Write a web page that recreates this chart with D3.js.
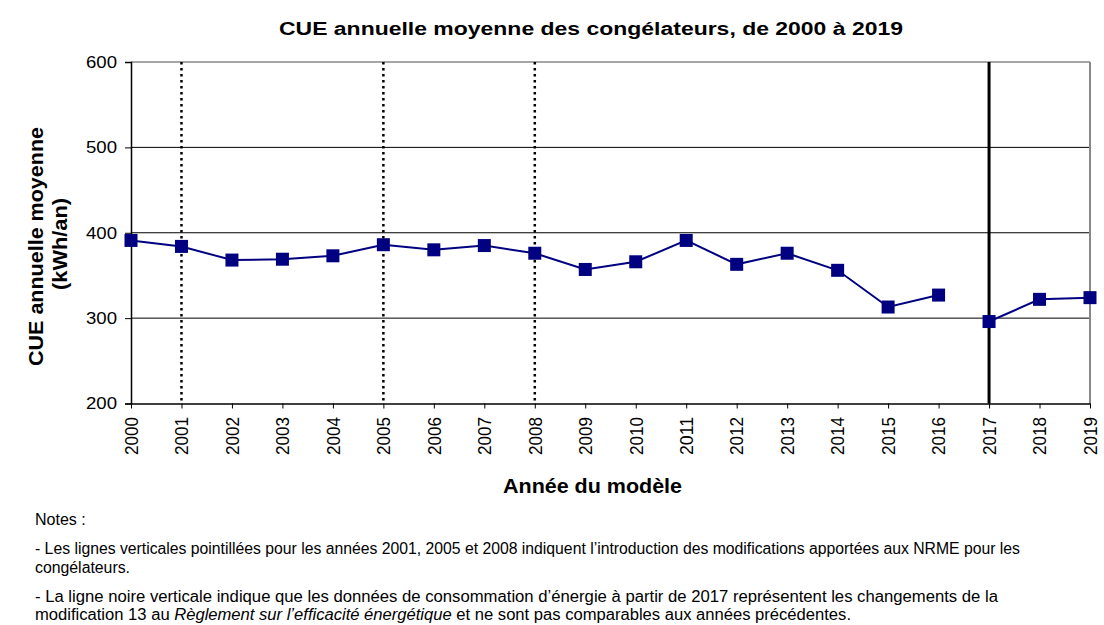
<!DOCTYPE html>
<html><head><meta charset="utf-8">
<script src="https://cdn.jsdelivr.net/npm/d3@7"></script>
<style>body{margin:0;background:#fff}svg{display:block}</style>
</head><body>
<svg id="c" width="1104" height="625"></svg>
<script>
const years = ["2000","2001","2002","2003","2004","2005","2006","2007","2008","2009","2010","2011","2012","2013","2014","2015","2016","2017","2018","2019"];
const cue = [391,384,368,369,373,386,380,385,376,357,366,391,363,376,356,313,327,296,322,324];
const segments = [[0,16],[17,19]];
const dottedYears = ["2001","2005","2008"];
const solidYear = "2017";
const yTicks = [200,300,400,500,600];
const title = "CUE annuelle moyenne des congélateurs, de 2000 à 2019";
const yTitle = ["CUE annuelle moyenne","(kWh/an)"];
const xTitle = "Année du modèle";
const notes = ["Notes :",
"- Les lignes verticales pointillées pour les années 2001, 2005 et 2008 indiquent l’introduction des modifications apportées aux NRME pour les",
"congélateurs.",
"- La ligne noire verticale indique que les données de consommation d’énergie à partir de 2017 représentent les changements de la"];

const svg = d3.select("#c");
const F = "'Liberation Sans', Arial, sans-serif";
const L=131, R=1090, T=62, B=403.5;
const x = d3.scalePoint().domain(years).range([L,R]);
const y = d3.scaleLinear().domain([200,600]).range([B,T]);

// gridlines
svg.append("g").selectAll("line").data([300,400,500]).join("line")
 .attr("x1",L).attr("x2",R).attr("y1",d=>y(d)).attr("y2",d=>y(d)).attr("stroke","#000").attr("stroke-width",1);
// top/right border gray
svg.append("line").attr("x1",L).attr("x2",R).attr("y1",y(600)).attr("y2",y(600)).attr("stroke","#888").attr("stroke-width",1.5);
svg.append("line").attr("x1",R).attr("x2",R).attr("y1",T).attr("y2",B).attr("stroke","#888").attr("stroke-width",2);

// vertical lines
svg.append("g").selectAll("line").data(dottedYears).join("line")
 .attr("x1",d=>x(d)).attr("x2",d=>x(d)).attr("y1",T).attr("y2",B)
 .attr("stroke","#000").attr("stroke-width",2.5).attr("stroke-dasharray","2.5,3.5");
svg.append("line").attr("x1",x(solidYear)).attr("x2",x(solidYear)).attr("y1",T).attr("y2",B)
 .attr("stroke","#000").attr("stroke-width",3);

// axes
const yAx = svg.append("g").attr("transform",`translate(${L},0)`)
 .call(d3.axisLeft(y).tickValues(yTicks).tickSize(6).tickPadding(8));
yAx.select(".domain").attr("stroke","#000").attr("stroke-width",1.5);
yAx.selectAll("text").attr("font-family",F).attr("font-size",17).attr("fill","#000")
 .attr("textLength",31).attr("lengthAdjust","spacingAndGlyphs");
const xAx = svg.append("g").attr("transform",`translate(0,${B})`)
 .call(d3.axisBottom(x).tickSize(5).tickPadding(4).tickSizeOuter(0));
xAx.select(".domain").attr("stroke","#000").attr("stroke-width",1.5);
xAx.selectAll("text").attr("font-family",F).attr("font-size",17.5).attr("fill","#000")
 .attr("transform","rotate(-90)").attr("text-anchor","end").attr("dx",0).attr("dy","0.36em")
 .attr("x",-13.5).attr("y",0).attr("textLength",38).attr("lengthAdjust","spacingAndGlyphs");

// series
const line = d3.line().x(d=>x(years[d])).y(d=>y(cue[d]));
segments.forEach(([a,b])=>{
  svg.append("path").datum(d3.range(a,b+1)).attr("d",line)
   .attr("fill","none").attr("stroke","#000080").attr("stroke-width",2);
});
svg.append("g").selectAll("rect").data(cue).join("rect")
 .attr("x",(d,i)=>x(years[i])-6.5).attr("y",d=>y(d)-6.5).attr("width",13).attr("height",13).attr("fill","#000080");

// titles
svg.append("text").attr("x",591).attr("y",35).attr("text-anchor","middle").attr("font-family",F)
 .attr("font-weight","bold").attr("font-size",18).attr("textLength",624).attr("lengthAdjust","spacingAndGlyphs").text(title);
svg.append("text").attr("x",592.5).attr("y",493).attr("text-anchor","middle").attr("font-family",F)
 .attr("font-weight","bold").attr("font-size",20).attr("textLength",179).attr("lengthAdjust","spacingAndGlyphs").text(xTitle);
svg.append("text").attr("transform","translate(43,246.5) rotate(-90)").attr("text-anchor","middle")
 .attr("font-family",F).attr("font-weight","bold").attr("font-size",20)
 .attr("textLength",239).attr("lengthAdjust","spacingAndGlyphs").text(yTitle[0]);
svg.append("text").attr("transform","translate(67,244) rotate(-90)").attr("text-anchor","middle")
 .attr("font-family",F).attr("font-weight","bold").attr("font-size",20)
 .attr("textLength",92).attr("lengthAdjust","spacingAndGlyphs").text(yTitle[1]);

// notes
const NF = "'Liberation Sans', Arial, sans-serif";
const nt = svg.append("g").attr("font-family",NF).attr("font-size",16).attr("fill","#000");
nt.append("text").attr("x",35).attr("y",525).text(notes[0]);
nt.append("text").attr("x",35).attr("y",554).attr("textLength",985).attr("lengthAdjust","spacingAndGlyphs").text(notes[1]);
nt.append("text").attr("x",35).attr("y",573).attr("textLength",95).attr("lengthAdjust","spacingAndGlyphs").text(notes[2]);
nt.append("text").attr("x",35).attr("y",602).attr("textLength",963).attr("lengthAdjust","spacingAndGlyphs").text(notes[3]);
const l5 = nt.append("text").attr("x",35).attr("y",620).attr("textLength",816).attr("lengthAdjust","spacingAndGlyphs");
l5.append("tspan").text("modification 13 au ");
l5.append("tspan").attr("font-style","italic").text("Règlement sur l’efficacité énergétique");
l5.append("tspan").text(" et ne sont pas comparables aux années précédentes.");
</script>
</body></html>
